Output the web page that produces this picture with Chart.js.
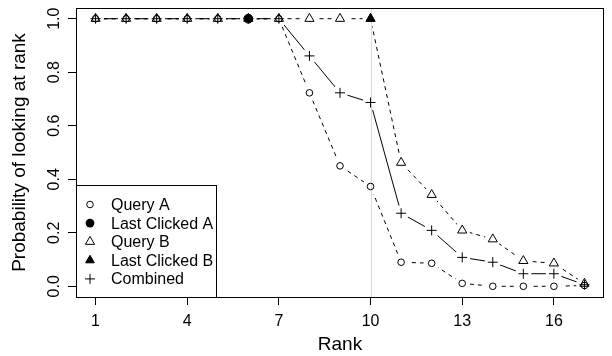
<!DOCTYPE html>
<html>
<head>
<meta charset="utf-8">
<script src="https://cdn.jsdelivr.net/npm/chart.js@4/dist/chart.umd.min.js"></script>
<style>
  html, body { margin: 0; padding: 0; background: #fff; }
  #wrap { position: relative; width: 612px; height: 356px; }
</style>
</head>
<body>
<div id="wrap"><canvas id="chart"></canvas></div>
<script>
// data
const ranks = [1, 2, 3, 4, 5, 6, 7, 8, 9, 10, 11, 12, 13, 14, 15, 16, 17];
const queryA = [1, 1, 1, 1, 1, 1, 1, 0.723, 0.45, 0.373, 0.09, 0.086, 0.011, 0.0, 0.0, 0.0, 0.003];
const queryB = [1, 1, 1, 1, 1, 1, 1, 1, 1, 1, 0.462, 0.342, 0.209, 0.176, 0.095, 0.086, 0.01];
const combined = [1, 1, 1, 1, 1, 1, 1, 0.861, 0.723, 0.687, 0.273, 0.209, 0.108, 0.09, 0.047, 0.047, 0.006];
const lastClickedARank = [6];
const lastClickedAProb = [1.0];
const lastClickedBRank = [10];
const lastClickedBProb = [1.0];
const markedRank = 10;

const xTicks = [1, 4, 7, 10, 13, 16];
const yTicks = [0, 0.2, 0.4, 0.6, 0.8, 1.0];
const yTickLabels = ['0.0', '0.2', '0.4', '0.6', '0.8', '1.0'];
const legendLabels = ['Query A', 'Last Clicked A', 'Query B', 'Last Clicked B', 'Combined'];

const FONT = '"Liberation Sans", Arial, Helvetica, sans-serif';
Chart.defaults.font.family = FONT;
Chart.defaults.color = '#000';

function pts(xs, ys) {
    return ys.map((v, i) => ({ x: xs[i], y: v }));
}

// plain line, no points
function lineSet(label, vals, dash) {
    return {
        label: label, kind: 'line', data: pts(ranks, vals), showLine: true,
        borderColor: '#000', borderWidth: 1, borderDash: dash, pointRadius: 0,
        tension: 0, fill: false, order: 30
    };
}

// white disks that open the gaps in the lines around each point (type "b" look)
function gapSet(vals) {
    return {
        kind: 'gap', data: pts(ranks, vals), showLine: false,
        pointRadius: 8, pointBackgroundColor: '#fff', pointBorderColor: '#fff',
        pointBorderWidth: 0, order: 20
    };
}

function markerSet(label, xs, ys, style, radius, filled, order) {
    return {
        label: label, kind: 'marker', data: pts(xs, ys), showLine: false,
        pointStyle: style, pointRadius: radius,
        pointBackgroundColor: filled ? '#000' : 'rgba(0,0,0,0)',
        pointBorderColor: '#000', pointBorderWidth: 1, order: order
    };
}

const datasets = [
    lineSet('Query A line', queryA, [4, 4]),
    lineSet('Query B line', queryB, [4, 4]),
    lineSet('Combined line', combined, []),
    gapSet(queryA),
    gapSet(queryB),
    gapSet(combined),
    markerSet('Query A', ranks, queryA, 'circle', 3.3, false, 10),
    markerSet('Query B', ranks, queryB, 'triangle', 5.3, false, 9),
    markerSet('Combined', ranks, combined, 'cross', 5, false, 8),
    markerSet('Last Clicked A', lastClickedARank, lastClickedAProb, 'circle', 4.4, true, 2),
    markerSet('Last Clicked B', lastClickedBRank, lastClickedBProb, 'triangle', 5, true, 1)
];

// legend marker glyphs, same shapes as the points
function drawMarker(ctx, kind, x, y) {
    ctx.save();
    ctx.strokeStyle = '#000';
    ctx.fillStyle = '#000';
    ctx.lineWidth = 1;
    ctx.beginPath();
    if (kind === 'circle' || kind === 'disc') {
        ctx.arc(x, y, kind === 'disc' ? 4.4 : 3.3, 0, Math.PI * 2);
        kind === 'disc' ? ctx.fill() : ctx.stroke();
    } else if (kind === 'tri' || kind === 'solidTri') {
        const r = kind === 'solidTri' ? 5 : 5.3;
        ctx.moveTo(x, y - r);
        ctx.lineTo(x + r * Math.sin(Math.PI * 2 / 3), y + r / 2);
        ctx.lineTo(x - r * Math.sin(Math.PI * 2 / 3), y + r / 2);
        ctx.closePath();
        if (kind === 'solidTri') ctx.fill();
        ctx.stroke();
    } else {
        ctx.moveTo(x - 5, y); ctx.lineTo(x + 5, y);
        ctx.moveTo(x, y - 5); ctx.lineTo(x, y + 5);
        ctx.stroke();
    }
    ctx.restore();
}
const legendMarkers = ['circle', 'disc', 'tri', 'solidTri', 'plus'];

let markLineDone = false;
const decor = {
    id: 'decor',
    beforeDraw() { markLineDone = false; },
    beforeDatasetDraw(chart, args) {
        // grey reference line goes under the markers but over the gap disks
        if (markLineDone || chart.data.datasets[args.index].kind !== 'marker') return;
        markLineDone = true;
        const { ctx, chartArea } = chart;
        const x = Math.round(chart.scales.x.getPixelForValue(markedRank)) + 0.5;
        ctx.save();
        ctx.strokeStyle = '#dcdcdc';
        ctx.lineWidth = 1;
        ctx.beginPath();
        ctx.moveTo(x, chartArea.top);
        ctx.lineTo(x, chartArea.bottom);
        ctx.stroke();
        ctx.restore();
    },
    afterDraw(chart) {
        const { ctx, chartArea } = chart;
        const ys = chart.scales.y;
        ctx.save();

        // rotated y tick labels, R style
        ctx.font = '16px ' + FONT;
        ctx.fillStyle = '#000';
        ctx.textAlign = 'center';
        ctx.textBaseline = 'alphabetic';
        yTicks.forEach((v, i) => {
            ctx.save();
            ctx.translate(58.5, ys.getPixelForValue(v));
            ctx.rotate(-Math.PI / 2);
            ctx.fillText(yTickLabels[i], 0, 0);
            ctx.restore();
        });

        // legend box, bottom left inside the plot
        const lx = chartArea.left + 0.5, ly = 185.5;
        const lw = 140, lh = chartArea.bottom + 0.5 - ly;
        ctx.fillStyle = '#fff';
        ctx.fillRect(lx, ly, lw, lh);
        ctx.strokeStyle = '#000';
        ctx.lineWidth = 1;
        ctx.strokeRect(lx, ly, lw, lh);
        ctx.font = '16px ' + FONT;
        ctx.fillStyle = '#000';
        ctx.textAlign = 'left';
        ctx.textBaseline = 'middle';
        legendLabels.forEach((txt, i) => {
            const y = 204.5 + i * 18.6;
            drawMarker(ctx, legendMarkers[i], 90, y);
            ctx.fillText(txt, 111, y + 1);
        });

        // plot frame
        ctx.strokeRect(chartArea.left + 0.5, chartArea.top + 0.5,
            chartArea.right - chartArea.left - 1, chartArea.bottom - chartArea.top);
        ctx.restore();
    }
};

new Chart(document.getElementById('chart'), {
    type: 'scatter',
    data: { datasets: datasets },
    plugins: [decor],
    options: {
        responsive: true,
        maintainAspectRatio: false,
        animation: false,
        events: [],
        layout: { padding: { left: 0, right: 1, top: 3, bottom: 0 } },
        plugins: {
            legend: { display: false },
            tooltip: { enabled: false }
        },
        scales: {
            x: {
                type: 'linear',
                min: 0.36,
                max: 17.64,
                afterBuildTicks: (scale) => { scale.ticks = xTicks.map(v => ({ value: v })); },
                afterFit: (scale) => { scale.height = 59; },
                border: { display: false },
                grid: { drawOnChartArea: false, drawTicks: true, tickLength: 8, tickColor: '#000', tickWidth: 1 },
                ticks: { font: { size: 16 }, color: '#000', padding: 7, maxRotation: 0, autoSkip: false },
                title: { display: true, text: 'Rank', font: { size: 19 }, color: '#000', padding: { top: 0, bottom: 0 } }
            },
            y: {
                type: 'linear',
                min: -0.04,
                max: 1.04,
                afterBuildTicks: (scale) => { scale.ticks = yTicks.map(v => ({ value: v })); },
                afterFit: (scale) => { scale.width = 76; },
                border: { display: false },
                grid: { drawOnChartArea: false, drawTicks: true, tickLength: 8, tickColor: '#000', tickWidth: 1 },
                ticks: { display: false },
                title: { display: true, text: 'Probability of looking at rank', font: { size: 19 }, color: '#000', padding: { top: 8, bottom: 0 } }
            }
        }
    }
});
</script>
</body>
</html>
